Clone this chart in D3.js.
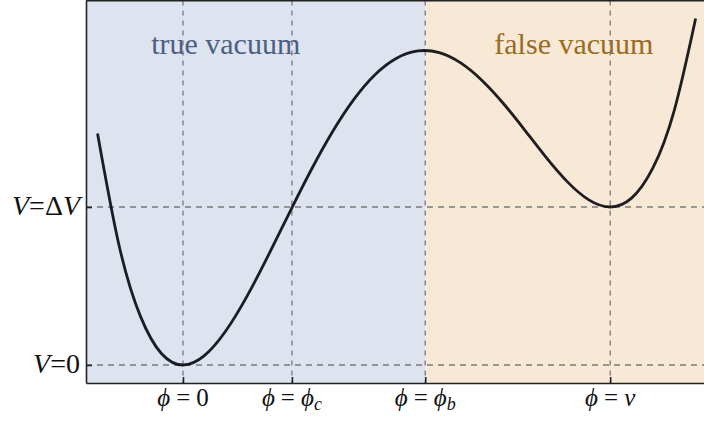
<!DOCTYPE html>
<html>
<head>
<meta charset="utf-8">
<script src="https://cdn.jsdelivr.net/npm/d3@7"></script>
<style>
  body { margin: 0; background: #fff; }
  svg { display: block; overflow: hidden; }
  text { font-family: "Liberation Serif", "DejaVu Serif", serif; }
</style>
</head>
<body>
<div class="chart"></div>
<script>
var WIDTH = 704;
var HEIGHT = 421;

// plot box (pixels)
var LEFT = 86, RIGHT = 717, TOP = 0.5, BOTTOM = 383;

// potential curve (phi in units of v, V in units of dV)
var phi = [-0.2, -0.15, -0.1, -0.05, 0, 0.05, 0.1, 0.15, 0.2, 0.25, 0.3, 0.35, 0.4, 0.45, 0.5,
           0.55, 0.6, 0.65, 0.7, 0.75, 0.8, 0.85, 0.9, 0.95, 1.0, 1.05, 1.1, 1.15, 1.2];
var pot = [1.465, 0.761, 0.311, 0.071, 0, 0.059, 0.215, 0.436, 0.695, 0.968, 1.234, 1.476, 1.681, 1.839, 1.942,
           1.988, 1.977, 1.912, 1.801, 1.655, 1.487, 1.314, 1.159, 1.045, 1.000, 1.056, 1.247, 1.612, 2.193];

// ticks
var xTicks = [0, 0.255, 0.567, 1];
var xTickSub = ["0", "c", "b", "v"];   // what follows "phi ="
var yTicks = [0, 1];
var yTickRhs = ["0", "\u0394V"];

// shaded regions
var regionNames = ["true vacuum", "false vacuum"];
var regionFrom = [-0.227, 0.567];
var regionTo = [0.567, 1.25];
var regionFill = ["#dde3ef", "#f8e9d6"];
var regionText = ["#4b5e84", "#9a6b22"];
var regionLabelX = [0.1, 0.915];

var x = d3.scaleLinear().domain([-0.227, 1.25]).range([LEFT, RIGHT]);
var y = d3.scaleLinear().domain([-0.114, 2.307]).range([BOTTOM, TOP]);

var svg = d3.select(".chart")
    .append("svg")
    .attr("width", WIDTH)
    .attr("height", HEIGHT);

// background regions
regionNames.forEach(function(name, i) {
    svg.append("rect")
        .attr("x", x(regionFrom[i]))
        .attr("y", TOP)
        .attr("width", x(regionTo[i]) - x(regionFrom[i]))
        .attr("height", BOTTOM - TOP)
        .attr("fill", regionFill[i]);

    svg.append("text")
        .attr("x", x(regionLabelX[i]))
        .attr("y", 54)
        .attr("text-anchor", "middle")
        .attr("font-size", 30)
        .attr("fill", regionText[i])
        .text(name);
});

// dashed guides
svg.selectAll(".vguide")
    .data(xTicks)
    .enter().append("line")
    .attr("x1", function(d) { return x(d); })
    .attr("x2", function(d) { return x(d); })
    .attr("y1", TOP)
    .attr("y2", BOTTOM)
    .attr("stroke", "#7a7a7a")
    .attr("stroke-width", 1.3)
    .attr("stroke-dasharray", "5,5");

svg.selectAll(".hguide")
    .data(yTicks)
    .enter().append("line")
    .attr("x1", LEFT)
    .attr("x2", RIGHT)
    .attr("y1", function(d) { return y(d); })
    .attr("y2", function(d) { return y(d); })
    .attr("stroke", "#7a7a7a")
    .attr("stroke-width", 1.3)
    .attr("stroke-dasharray", "6,5");

// the potential
var line = d3.line()
    .x(function(d, i) { return x(phi[i]); })
    .y(function(d) { return y(d); })
    .curve(d3.curveNatural);

svg.append("path")
    .datum(pot)
    .attr("d", line)
    .attr("fill", "none")
    .attr("stroke", "#0b0b10")
    .attr("stroke-opacity", 0.92)
    .attr("stroke-width", 2.8);

// frame + axes
var xAxis = svg.append("g")
    .attr("transform", "translate(0," + BOTTOM + ")")
    .call(d3.axisBottom(x).tickValues(xTicks).tickSizeInner(-6).tickSizeOuter(0).tickFormat(""));
var yAxis = svg.append("g")
    .attr("transform", "translate(" + LEFT + ",0)")
    .call(d3.axisLeft(y).tickValues(yTicks).tickSizeInner(-6).tickSizeOuter(0).tickFormat(""));

[xAxis, yAxis].forEach(function(ax) {
    ax.select(".domain").attr("stroke", "#222").attr("stroke-width", 1.6);
    ax.selectAll(".tick line").attr("stroke", "#222").attr("stroke-width", 1.6);
});

svg.append("line")
    .attr("x1", LEFT).attr("x2", WIDTH)
    .attr("y1", TOP + 0.3).attr("y2", TOP + 0.3)
    .attr("stroke", "#222").attr("stroke-width", 1.6);

// x tick labels
xTicks.forEach(function(t, i) {
    var lab = svg.append("text")
        .attr("x", x(t))
        .attr("y", 406)
        .attr("text-anchor", "middle")
        .attr("font-size", 25)
        .attr("fill", "#111");
    lab.append("tspan").attr("font-style", "italic").text("\u03D5");
    lab.append("tspan").attr("dx", 6).text("=");
    var s = xTickSub[i];
    if (s === "0") {
        lab.append("tspan").attr("dx", 6).text("0");
    } else if (s === "v") {
        lab.append("tspan").attr("dx", 6).attr("font-style", "italic").text("v");
    } else {
        lab.append("tspan").attr("dx", 6).attr("font-style", "italic").text("\u03D5");
        lab.append("tspan").attr("font-style", "italic").attr("font-size", 18).attr("dy", 4).text(s);
    }
});

// y tick labels
yTicks.forEach(function(t, i) {
    var lab = svg.append("text")
        .attr("x", 80)
        .attr("y", y(t) + 8)
        .attr("text-anchor", "end")
        .attr("font-size", 28)
        .attr("fill", "#111");
    lab.append("tspan").attr("font-style", "italic").text("V");
    lab.append("tspan").text("=");
    var r = yTickRhs[i];
    if (r === "0") {
        lab.append("tspan").text("0");
    } else {
        lab.append("tspan").text("\u0394");
        lab.append("tspan").attr("font-style", "italic").text("V");
    }
});
</script>
</body>
</html>
